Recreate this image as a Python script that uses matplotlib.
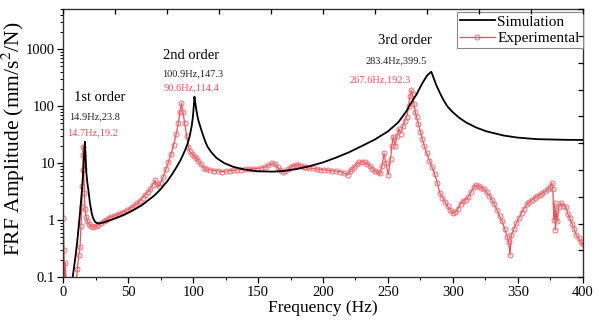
import matplotlib
matplotlib.use("Agg")
import matplotlib.pyplot as plt
from matplotlib.ticker import LogLocator, NullFormatter

plt.rcParams['font.family'] = ['Liberation Serif', 'DejaVu Serif']
plt.rcParams['mathtext.fontset'] = 'stix'

# ---- Simulation (black) ----
sim_f = [6, 7.2, 9, 10.5, 11.6, 12.8, 13.8, 14.8, 15.6, 16.2, 16.6, 17.1, 17.7, 18.5,
         19.3, 20.5, 21.9, 23, 24.4, 26, 27.5, 30, 33, 36, 40, 44, 50, 55, 60, 65, 70,
         74.5, 80, 84, 87.3, 90, 92.5, 94.5, 96, 97.5, 98.9, 99.8, 100.5, 101, 101.5,
         102, 103, 104, 105.3, 107, 109, 111, 114, 118, 124, 131, 140, 150, 161.7, 170,
         180, 190, 200, 210, 220, 230, 240, 250, 258, 264, 268, 272, 276, 280, 283.4,
         285, 287, 290, 293, 296, 300, 305, 310, 318, 326, 339, 350, 365, 388, 400]
sim_v = [0.07, 0.1, 0.2, 0.38, 0.68, 1.3, 2.4, 4.5, 9, 16, 23.7, 14, 7, 4.5,
         3.4, 2.0, 1.32, 1.08, 0.94, 0.89, 0.88, 0.9, 0.95, 1.0, 1.08, 1.17, 1.35, 1.55,
         1.8, 2.2, 2.7, 3.4, 4.8, 6.5, 8.6, 11, 14.5, 18.5, 23, 31, 45, 65, 100, 146, 120,
         100, 72, 56, 45, 34, 25, 19.5, 15.5, 12.3, 10, 8.6, 7.7, 7.2, 7.1, 7.3,
         7.9, 8.9, 10.3, 12.5, 15.5, 20, 26, 36, 52, 80, 115, 160, 240, 340, 399.5,
         320, 240, 170, 125, 97, 78, 62, 52, 42, 36, 30.5, 28, 26.3, 25.6, 25.5]

# ---- Experimental (red) ----
exp_f = [0, 0.5, 1.0, 1.5, 2.5, 10, 10.8, 12, 12.9, 13.6, 14.2, 14.6, 14.9, 15.2, 15.4,
         15.7, 16.2, 16.7, 17.5, 18.5, 19.5, 21, 23, 25, 27, 29, 31, 33, 35, 37, 39, 41,
         43, 45, 47, 49, 51, 53, 55, 57, 59, 61, 63, 65, 67, 69, 70.6, 72, 73.5, 75, 77,
         79, 81, 83, 85, 87, 88.6, 89.8, 91, 92, 93.5, 95, 96.3, 97.5, 99, 100.5, 102,
         104, 106, 108, 110, 113, 116, 119, 122, 125, 128, 131, 134, 137, 140, 143, 146,
         149, 152, 155, 158, 161, 163, 165, 167, 169, 171, 173, 175, 177, 179, 181, 183,
         185, 187, 189, 192, 195, 198, 201, 204, 207, 210, 213, 216, 219, 220.5, 222, 224,
         226, 228, 230, 232, 234, 236, 238, 240, 242, 244, 245.5, 247, 248.5, 250.3, 252,
         253, 254, 255.5, 257, 258.5, 260, 261.5, 263, 264.5, 266, 267, 268, 269, 270, 271,
         272, 273.5, 275, 276.5, 278, 280, 282, 284, 286, 288, 290, 292, 294, 296, 298,
         300, 302, 304, 306, 308, 310, 312, 314, 316, 318, 320, 322, 324, 326, 328, 330,
         332, 334, 336, 338, 340, 342, 343, 344, 345, 347, 349, 351, 353, 355, 357, 359,
         361, 363, 365, 367, 369, 371, 373, 375, 376.3, 377, 377.8, 378.5, 379, 379.5,
         380.5, 381.5, 383, 385, 387, 388.5, 390, 392, 393.5, 395, 397, 398.5, 400]
exp_v = [1.1, 0.3, 0.08, 0.18, 0.05, 0.08, 0.14, 0.25, 0.34, 0.8, 1.7, 4, 7.6, 14, 19.5,
         8, 3, 1.6, 1.15, 0.95, 0.87, 0.8, 0.75, 0.78, 0.84, 0.9, 0.95, 1.02, 1.1, 1.15,
         1.18, 1.22, 1.28, 1.35, 1.42, 1.5, 1.6, 1.72, 1.85, 2.0, 2.2, 2.5, 2.8, 3.1, 3.5,
         4.2, 5.0, 4.3, 3.9, 4.5, 5.8, 7.8, 10.5, 14.5, 21, 33, 50, 80, 112, 80, 50, 30,
         19.4, 16, 14.5, 13.5, 12.5, 11, 9.5, 8.3, 7.8, 7.6, 7.4, 7.3, 7.1, 7.2, 7.4, 7.5,
         7.6, 7.7, 7.8, 7.9, 8.0, 8.0, 8.2, 8.5, 9.2, 9.9, 9.5, 8.5, 7.6, 7.1, 7.3, 7.8,
         8.4, 8.9, 9.2, 9.3, 9.0, 8.6, 8.4, 8.2, 8.1, 7.9, 7.7, 7.6, 7.5, 7.3, 7.2, 7.1,
         6.7, 6.2, 7.2, 7.8, 8.7, 9.6, 10.3, 10.6, 10.5, 9.7, 8.9, 8.0, 7.3, 6.9, 6.6, 9,
         14.9, 10, 6.2, 12, 20, 29, 20, 30, 40, 33, 45, 55, 65, 100, 150, 190, 160, 110, 80,
         65, 48, 35, 26, 20, 14.9, 11, 8.5, 6.5, 4.5, 3.0, 2.5, 2.1, 1.75, 1.5, 1.32, 1.38,
         1.6, 1.95, 2.2, 2.3, 2.6, 3.1, 3.8, 4.1, 4.0, 3.7, 3.5, 3.1, 2.7, 2.3, 1.9, 1.5,
         1.2, 0.95, 0.7, 0.5, 0.42, 0.245, 0.55, 0.7, 0.9, 1.1, 1.35, 1.6, 1.9, 2.1, 2.3,
         2.5, 2.65, 2.8, 3.0, 3.2, 3.5, 3.8, 4.5, 3.5, 1.0, 2.0, 0.68, 1.5, 0.95, 1.7, 2.0,
         1.8, 1.7, 1.3, 1.1, 0.85, 0.7, 0.55, 0.48, 0.42, 0.38]

x_ticks = [0, 50, 100, 150, 200, 250, 300, 350, 400]
x_minor = [25, 75, 125, 175, 225, 275, 325, 375]
y_ticks = [0.1, 1, 10, 100, 1000]
y_ticklabels = ['0.1', '1', '10', '100', '1000']

RED = '#ee4d57'

fig = plt.figure(figsize=(5.99, 3.25), dpi=100)
ax = fig.add_axes([0.1057, 0.1468, 0.8671, 0.8252])

ax.plot(sim_f, sim_v, color='black', lw=1.3, label='Simulation', zorder=3)
ax.plot(exp_f, exp_v, color=RED, lw=0.9, marker='o', markersize=3.6,
        markerfacecolor='none', markeredgecolor='#f26a72', markeredgewidth=0.7,
        label='Experimental', zorder=2)

ax.set_yscale('log')
ax.set_xlim(0, 400)
ax.set_ylim(0.1, 5000)
ax.set_xticks(x_ticks)
ax.set_xticks(x_minor, minor=True)
ax.set_yticks(y_ticks)
ax.set_yticklabels(y_ticklabels)
ax.yaxis.set_minor_locator(LogLocator(base=10, subs=range(2, 10), numticks=20))
ax.yaxis.set_minor_formatter(NullFormatter())
ax.tick_params(axis='both', which='major', direction='out', length=4, width=0.9,
               labelsize=10.5, top=False, right=False, pad=2)
ax.tick_params(axis='both', which='minor', direction='out', length=2.5, width=0.7,
               top=False, right=False)
for s in ax.spines.values():
    s.set_linewidth(1.0)
    s.set_color('#333333')

ax.set_xlabel('Frequency (Hz)', fontsize=12.5, labelpad=1)
ax.set_ylabel('FRF Amplitude (mm/s$^2$/N)', fontsize=15.5)
ax.yaxis.set_label_coords(-0.07, 0.515)

# overlay for linear ticks on top and right
ov = fig.add_axes(ax.get_position(), frameon=False)
ov.set_xlim(0, 10)
ov.set_ylim(0, 10)
ov.set_xticks(range(11))
ov.set_yticks(range(11))
ov.tick_params(direction='in', length=3.5, width=0.9, top=True, right=True,
               bottom=False, left=False, labelbottom=False, labelleft=False,
               labeltop=False, labelright=False)
ov.patch.set_visible(False)

# annotations
ax.text(27.9, 144, '1st order', ha='center', va='center', fontsize=10.5)
ax.text(24.4, 64, '14.9Hz,23.8', ha='center', va='center', fontsize=7.5, color='#222222')
ax.text(22.5, 33.6, '14.7Hz,19.2', ha='center', va='center', fontsize=7.5, color=RED)
ax.text(98.7, 782, '2nd order', ha='center', va='center', fontsize=10.5)
ax.text(99.9, 363, '100.9Hz,147.3', ha='center', va='center', fontsize=7.5, color='#222222')
ax.text(98.7, 207, '90.6Hz,114.4', ha='center', va='center', fontsize=7.5, color=RED)
ax.text(263.2, 1432, '3rd order', ha='center', va='center', fontsize=10.5)
ax.text(256.6, 615, '283.4Hz,399.5', ha='center', va='center', fontsize=7.5, color='#222222')
ax.text(243.9, 285, '267.6Hz,192.3', ha='center', va='center', fontsize=7.5, color=RED)

leg = ax.legend(loc='upper right', bbox_to_anchor=(1.0, 0.99), borderaxespad=0,
                fancybox=False, edgecolor='#888888', framealpha=1, fontsize=11,
                handlelength=2.3, handletextpad=0.15, labelspacing=0.2,
                borderpad=0.2)
leg.get_frame().set_linewidth(0.8)

fig.savefig('out.png', dpi=100)
